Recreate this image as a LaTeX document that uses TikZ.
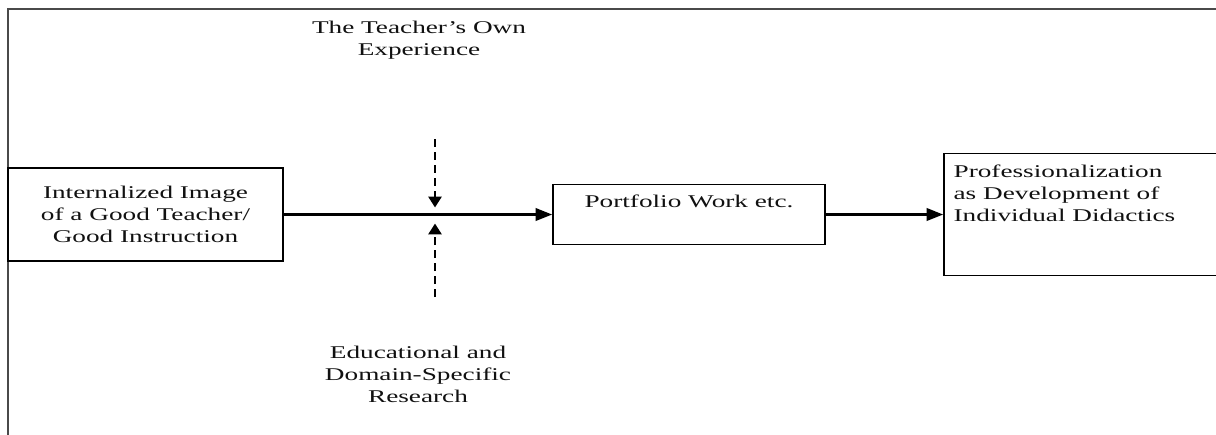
\documentclass[tikz,border=0pt]{standalone}
\usepackage{fontspec}
\usetikzlibrary{positioning,calc,arrows.meta}
\newfontfamily\figfont[FakeStretch=1.52,Ligatures=TeX]{Liberation Serif}
\definecolor{framecol}{HTML}{4A4A4A}
\definecolor{txtcol}{HTML}{111111}
\tikzset{
  stagebox/.style={draw,line width=0.85pt,inner sep=0pt},
  lbl/.style={font=\figfont\fontsize{10.2}{12.5}\selectfont,text=txtcol,inner sep=0pt},
  flow/.style={line width=1.6pt,-{Triangle[length=9.5pt,width=7pt]}},
  infl/.style={line width=1.5pt,dash pattern=on 4.8pt off 2.6pt,-{Triangle[length=6.2pt,width=7.4pt]}}
}

\begin{document}
\begin{tikzpicture}[x=0.02cm,y=-0.02cm]
  \clip (0,0) rectangle (1216,434);
  \draw[framecol,line width=0.7pt] (8,440) -- (8,9) -- (1220,9);
  % the three stages
  \node[stagebox,lbl,align=center,minimum width=5.5cm,minimum height=1.86cm] (img) at (145.5,214.5)
    {Internalized Image\\of a Good Teacher/\\Good Instruction};
  \node[stagebox,minimum width=5.44cm,minimum height=1.2cm] (pf) at (689,214.5) {};
  \node[lbl] at ($(pf.north)+(0,18)$) {Portfolio Work etc.};
  \node[stagebox,minimum width=5.84cm,minimum height=2.44cm] (prof) at (1090,214.5) {};
  \node[lbl,align=left,anchor=north west] at ($(prof.north west)+(10,12)$)
    {Professionalization\\as Development of\\Individual Didactics};
  \draw[flow] (img) -- (pf);
  \draw[flow] (pf) -- (prof);
  % influences on the way
  \node[lbl,align=center] (own) at (419,40) {The Teacher's Own\\Experience};
  \node[lbl,align=center] (res) at (418,374) {Educational and\\Domain-Specific\\Research};
  \coordinate (meet) at (435,214.5);
  \coordinate (ownsrc) at (435,139);
  \coordinate (ressrc) at (435,297);
  \draw[infl] (ownsrc) -- ($(meet)+(0,-7)$);
  \draw[infl] (ressrc) -- ($(meet)+(0,9)$);
\end{tikzpicture}
\end{document}
